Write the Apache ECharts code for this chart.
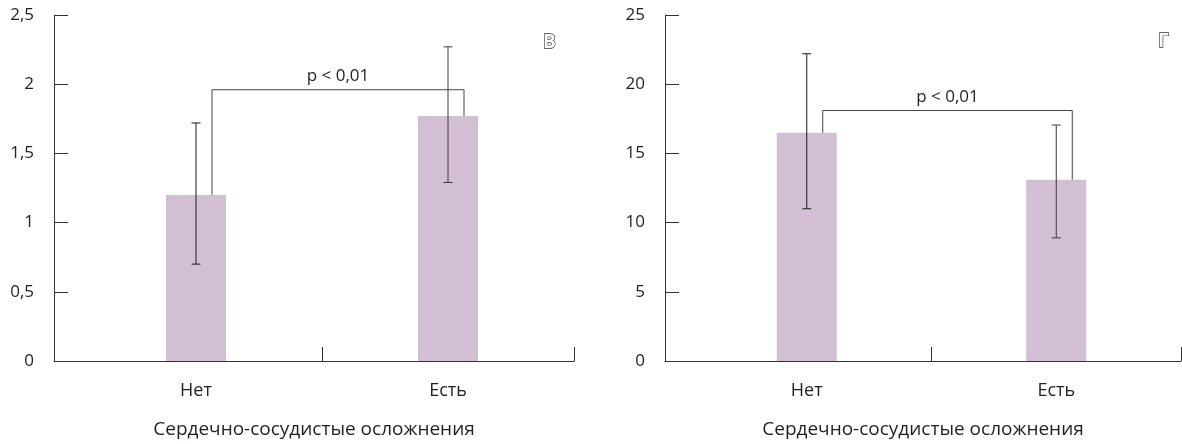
<!DOCTYPE html>
<html>
<head>
<meta charset="utf-8">
<script src="https://cdn.jsdelivr.net/npm/echarts@6/dist/echarts.min.js"></script>
<style>
html,body{margin:0;padding:0;background:#fff;}
#chart{width:1182px;height:444px;}
</style>
</head>
<body>
<div id="chart"></div>
<script>
// ---- data ----
const categories = ['Нет', 'Есть'];
const leftMean = [1.2, 1.77];
const leftLow = [0.7, 1.29];
const leftHigh = [1.72, 2.27];
const leftBracket = 1.96;
const rightMean = [16.5, 13.1];
const rightLow = [11.0, 8.9];
const rightHigh = [22.2, 17.05];
const rightBracket = 18.1;
const leftAxis = { min: 0, max: 2.5, interval: 0.5 };
const rightAxis = { min: 0, max: 25, interval: 5 };
const xTitle = 'Сердечно-сосудистые осложнения';
const pText = 'p < 0,01';
const panelLetters = ['В', 'Г'];

// ---- style / layout ----
const FONT = '"Open Sans", "Noto Sans", sans-serif';
const TXT = '#231f20';
const AXIS = '#333';
const BAR = '#d3bfd4';
const TOP = 15, HEIGHT = 346;
const panels = [
  { axisX: 54, gap: 16, width: 504 },
  { axisX: 665, gap: 17, width: 499 }
];

const chart = echarts.init(document.getElementById('chart'), null, { renderer: 'canvas' });

function errRender(params, api) {
  const i = api.value(0);
  const lo = api.coord([i, api.value(1)]);
  const hi = api.coord([i, api.value(2)]);
  const hw = 4.5;
  const st = { stroke: i === 0 ? '#1a1a1a' : '#3a3a3a', lineWidth: 1 };
  return {
    type: 'group',
    children: [
      { type: 'line', shape: { x1: lo[0], y1: lo[1], x2: hi[0], y2: hi[1] }, style: st },
      { type: 'line', shape: { x1: lo[0] - hw, y1: lo[1], x2: lo[0] + hw, y2: lo[1] }, style: st },
      { type: 'line', shape: { x1: hi[0] - hw, y1: hi[1], x2: hi[0] + hw, y2: hi[1] }, style: st }
    ]
  };
}

function bracketRender(params, api) {
  const off = 16;
  const a = api.coord([0, api.value(1)]);
  const b = api.coord([1, api.value(2)]);
  const top = api.coord([0, api.value(3)])[1];
  const x1 = a[0] + off, x2 = b[0] + off;
  return {
    type: 'group',
    children: [
      { type: 'polyline', shape: { points: [[x1, a[1]], [x1, top], [x2, top], [x2, b[1]]] },
        style: { stroke: '#444', lineWidth: 1, fill: null } },
      { type: 'text', style: { text: pText, x: (x1 + x2) / 2, y: top - 5, align: 'center',
        verticalAlign: 'bottom', fill: TXT, fontSize: 17, fontFamily: FONT } }
    ]
  };
}

const grids = [];
const xAxes = [];
const yAxes = [];
const series = [];
const titles = [];

const sets = [
  { mean: leftMean, low: leftLow, high: leftHigh, br: leftBracket, ax: leftAxis },
  { mean: rightMean, low: rightLow, high: rightHigh, br: rightBracket, ax: rightAxis }
];

sets.forEach((d, k) => {
  const p = panels[k];
  const gMain = grids.length;
  grids.push({ left: p.axisX + p.gap, top: TOP, width: p.width, height: HEIGHT, containLabel: false });
  const gAux = grids.length;
  grids.push({ left: p.axisX, top: TOP, width: p.width + p.gap, height: HEIGHT, containLabel: false });

  const xMain = xAxes.length;
  xAxes.push({
    type: 'category', gridIndex: gMain, data: categories,
    axisLine: { show: false }, axisTick: { show: false },
    axisLabel: { color: TXT, fontSize: 18, fontFamily: FONT, margin: 21 }
  });
  xAxes.push({
    type: 'value', gridIndex: gAux, min: 0, max: p.width + p.gap, interval: p.gap + p.width / 2,
    axisLine: { show: true, lineStyle: { color: AXIS, width: 1 } },
    axisTick: { show: true, inside: true, length: 14, lineStyle: { color: AXIS, width: 1 } },
    axisLabel: { show: false }, splitLine: { show: false },
    name: xTitle, nameLocation: 'middle', nameGap: 59,
    nameTextStyle: { color: TXT, fontSize: 19, fontFamily: FONT }
  });

  const yMain = yAxes.length;
  yAxes.push({
    type: 'value', gridIndex: gMain, min: d.ax.min, max: d.ax.max, interval: d.ax.interval,
    offset: p.gap,
    axisLine: { show: true, lineStyle: { color: AXIS, width: 1 } },
    axisTick: { show: true, inside: true, length: 14, lineStyle: { color: AXIS, width: 1 } },
    axisLabel: { color: TXT, fontSize: 17, fontFamily: FONT, margin: 20,
      formatter: v => String(v).replace('.', ',') },
    splitLine: { show: false }
  });
  yAxes.push({ type: 'value', gridIndex: gAux, show: false, min: 0, max: 1 });

  series.push({
    type: 'bar', xAxisIndex: xMain, yAxisIndex: yMain, data: d.mean,
    barWidth: 60, itemStyle: { color: BAR }, silent: true
  });
  series.push({
    type: 'custom', xAxisIndex: xMain, yAxisIndex: yMain, renderItem: errRender,
    data: categories.map((c, i) => [i, d.low[i], d.high[i]]), silent: true, z: 5
  });
  series.push({
    type: 'custom', xAxisIndex: xMain, yAxisIndex: yMain, renderItem: bracketRender,
    data: [[0, d.mean[0], d.mean[1], d.br]], silent: true, z: 6
  });
});

titles.push({ text: panelLetters[0], left: 543, top: 33,
  textStyle: { color: '#fff', textBorderColor: '#333', textBorderWidth: 1.3, fontSize: 19, fontWeight: 'bold', fontFamily: FONT } });
titles.push({ text: panelLetters[1], left: 1158, top: 32,
  textStyle: { color: '#fff', textBorderColor: '#333', textBorderWidth: 1.3, fontSize: 19, fontWeight: 'bold', fontFamily: FONT } });

chart.setOption({
  backgroundColor: '#fff',
  animation: false,
  title: titles.map(t => Object.assign({ padding: 0 }, t)),
  grid: grids,
  xAxis: xAxes,
  yAxis: yAxes,
  series: series
});
</script>
</body>
</html>
